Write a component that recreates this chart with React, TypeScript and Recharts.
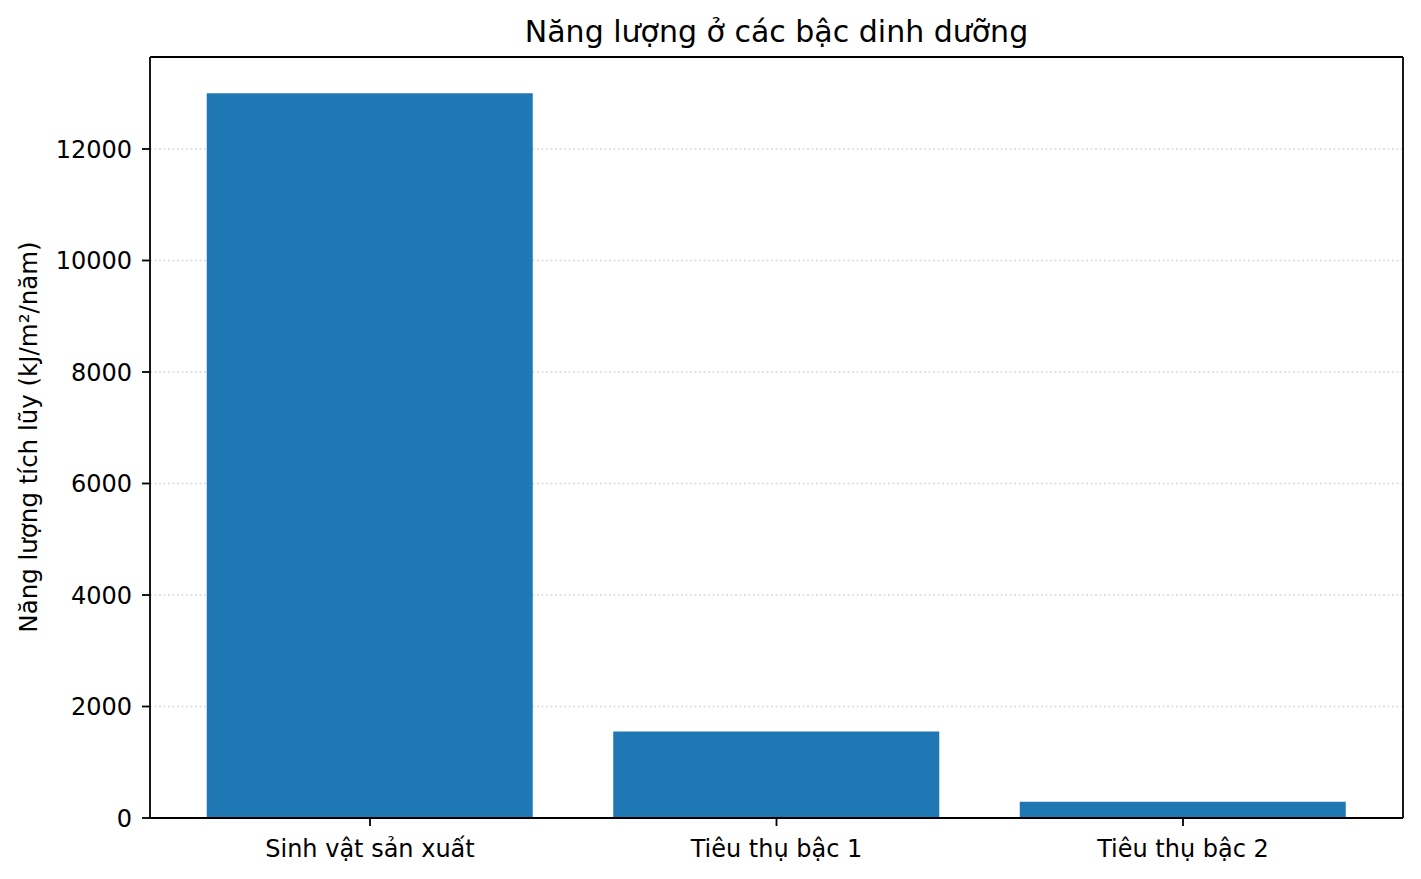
import { Bar, BarChart, CartesianGrid, XAxis, YAxis, Label } from "recharts";

const categories = ["Sinh vật sản xuất", "Tiêu thụ bậc 1", "Tiêu thụ bậc 2"];
const energyValues = [13000, 1550, 290];
const yTicks = [0, 2000, 4000, 6000, 8000, 10000, 12000];

const chartTitle = "Năng lượng ở các bậc dinh dưỡng";
const yLabel = "Năng lượng tích lũy (kJ/m²/năm)";

const font = "'DejaVu Sans', sans-serif";

export default function App() {
  const data = categories.map((name, i) => ({ name, value: energyValues[i] }));

  return (
    <div style={{ position: "absolute", left: 0, top: 0, width: 1421, height: 879, background: "#fff" }}>
      <BarChart
        width={1421}
        height={879}
        data={data}
        margin={{ top: 56, right: 17, bottom: 0, left: 0 }}
        style={{ fontFamily: font }}
      >
        <CartesianGrid vertical={false} stroke="#d9d9d9" strokeDasharray="2 2.5" strokeWidth={1.3} />
        <XAxis
          dataKey="name"
          height={61}
          padding={{ left: 16.75, right: 16.75 }}
          axisLine={{ stroke: "#000", strokeWidth: 1.8 }}
          tickLine={{ stroke: "#000", strokeWidth: 1.8 }}
          tickSize={8}
          tickMargin={14}
          tick={{ fill: "#000", fontSize: 24, fontFamily: font }}
          interval={0}
        />
        <XAxis
          xAxisId="top"
          dataKey="name"
          orientation="top"
          height={1}
          tick={false}
          tickLine={false}
          axisLine={{ stroke: "#000", strokeWidth: 1.8 }}
        >
          <Label
            content={() => (
              <text x={776.5} y={42} textAnchor="middle" fontSize={30} fontFamily={font} fill="#000">
                {chartTitle}
              </text>
            )}
          />
        </XAxis>
        <YAxis
          width={150}
          domain={[0, 13650]}
          ticks={yTicks}
          allowDataOverflow
          axisLine={{ stroke: "#000", strokeWidth: 1.8 }}
          tickLine={{ stroke: "#000", strokeWidth: 1.8 }}
          tickSize={8}
          tickMargin={10}
          tick={{ fill: "#000", fontSize: 24, fontFamily: font }}
        >
          <Label
            content={() => (
              <text
                x={37}
                y={437}
                transform="rotate(-90 37 437)"
                textAnchor="middle"
                fontSize={24.5}
                fontFamily={font}
                fill="#000"
              >
                {yLabel}
              </text>
            )}
          />
        </YAxis>
        <YAxis
          yAxisId="right"
          orientation="right"
          width={1}
          domain={[0, 13650]}
          tick={false}
          tickLine={false}
          axisLine={{ stroke: "#000", strokeWidth: 1.8 }}
        />
        <Bar dataKey="value" fill="#1f77b4" barSize={326} isAnimationActive={false} />
      </BarChart>
    </div>
  );
}
